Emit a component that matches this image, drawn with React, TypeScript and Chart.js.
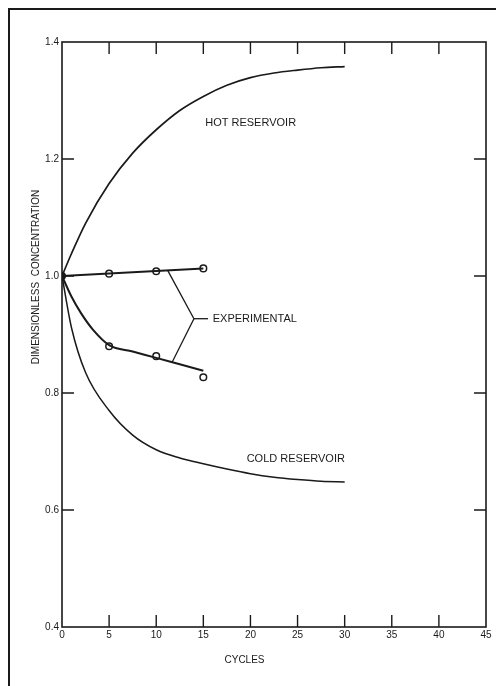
import React, { useEffect, useRef } from "react";
import { Chart, registerables } from "chart.js";

Chart.register(...registerables);

// Hot reservoir curve (cycles, dimensionless concentration)
const hotX = [0, 1, 2.5, 5, 7.5, 10, 12.5, 15, 17.5, 20, 22.5, 25, 27.5, 30];
const hotY = [1.0, 1.038, 1.09, 1.158, 1.21, 1.25, 1.283, 1.307, 1.326, 1.339, 1.347, 1.352, 1.356, 1.358];

// Cold reservoir curve
const coldX = [0, 1, 2.5, 5, 7.5, 10, 12.5, 15, 17.5, 20, 22.5, 25, 27.5, 30];
const coldY = [1.0, 0.912, 0.835, 0.77, 0.728, 0.703, 0.689, 0.679, 0.67, 0.662, 0.656, 0.652, 0.649, 0.648];

// Experimental fitted lines
const expUpperFitX = [0, 15];
const expUpperFitY = [1.0, 1.013];
const expLowerFitX = [0, 1, 2, 3.3, 5, 7.5, 10, 12.5, 15];
const expLowerFitY = [1.0, 0.965, 0.937, 0.908, 0.882, 0.871, 0.86, 0.849, 0.838];

// Experimental points
const expUpperX = [5, 10, 15];
const expUpperY = [1.004, 1.008, 1.013];
const expLowerX = [5, 10, 15];
const expLowerY = [0.88, 0.863, 0.827];
const originX = [0];
const originY = [1.0];

// Bracket linking the label to both experimental lines
const bracketX = [11.2, 14.0, 11.7];
const bracketY = [1.01, 0.927, 0.853];
const bracketTickX = [14.0, 15.5];
const bracketTickY = [0.927, 0.927];

// Axes
const xTicks = [0, 5, 10, 15, 20, 25, 30, 35, 40, 45];
const yTicks = [0.4, 0.6, 0.8, 1.0, 1.2, 1.4];

// Annotation labels (data coordinates)
const labels = [
  { text: "HOT RESERVOIR", x: 15.2, y: 1.262 },
  { text: "COLD RESERVOIR", x: 19.6, y: 0.687 },
  { text: "EXPERIMENTAL", x: 16.0, y: 0.927 },
];
const xTitle = "CYCLES";
const yTitle = "DIMENSIONLESS  CONCENTRATION";

const ink = "#1a1a1a";
const font = "'Liberation Sans', Arial, sans-serif";

const zip = (xs: number[], ys: number[]) => xs.map((x, i) => ({ x, y: ys[i] }));

const decorPlugin = {
  id: "decor",
  beforeDraw(chart: any) {
    const ctx = chart.ctx;
    ctx.save();
    ctx.fillStyle = "#ffffff";
    ctx.fillRect(0, 0, chart.width, chart.height);
    ctx.restore();
  },
  afterDraw(chart: any) {
    const ctx = chart.ctx;
    const { left, right, top, bottom } = chart.chartArea;
    const xs = chart.scales.x;
    const ys = chart.scales.y;
    ctx.save();
    ctx.strokeStyle = ink;
    // outer frame
    ctx.lineWidth = 2;
    ctx.strokeRect(9, 9, chart.width + 10, chart.height + 10);
    // plot frame
    ctx.lineWidth = 1.6;
    ctx.strokeRect(left, top, right - left, bottom - top);
    // inward ticks
    const tl = 12;
    ctx.lineWidth = 1.4;
    ctx.beginPath();
    xTicks.slice(1, -1).forEach((v) => {
      const px = xs.getPixelForValue(v);
      ctx.moveTo(px, bottom);
      ctx.lineTo(px, bottom - tl);
      ctx.moveTo(px, top);
      ctx.lineTo(px, top + tl);
    });
    yTicks.slice(1, -1).forEach((v) => {
      const py = ys.getPixelForValue(v);
      ctx.moveTo(left, py);
      ctx.lineTo(left + tl, py);
      ctx.moveTo(right, py);
      ctx.lineTo(right - tl, py);
    });
    ctx.stroke();
    // annotation labels
    ctx.fillStyle = ink;
    ctx.font = `11px ${font}`;
    ctx.textBaseline = "middle";
    ctx.textAlign = "left";
    labels.forEach((l) => {
      ctx.fillText(l.text, xs.getPixelForValue(l.x), ys.getPixelForValue(l.y));
    });
    // axis titles
    ctx.font = `10px ${font}`;
    ctx.textAlign = "center";
    ctx.fillText(xTitle, 244.5, 660);
    ctx.translate(36, 277);
    ctx.rotate(-Math.PI / 2);
    ctx.fillText(yTitle, 0, 0);
    ctx.restore();
  },
};

export default function App() {
  const ref = useRef<HTMLCanvasElement | null>(null);
  useEffect(() => {
    if (!ref.current) return;
    const lineDs = (xs: number[], ys: number[], w: number, mono = true) => ({
      data: zip(xs, ys),
      showLine: true,
      borderColor: ink,
      borderWidth: w,
      pointRadius: 0,
      cubicInterpolationMode: mono ? "monotone" : "default",
      tension: 0,
    });
    const pointDs = (xs: number[], ys: number[], fill: string) => ({
      data: zip(xs, ys),
      showLine: false,
      pointRadius: 3.3,
      pointBorderWidth: 1.5,
      pointBorderColor: ink,
      pointBackgroundColor: fill,
      pointStyle: "circle",
    });
    const chart = new Chart(ref.current, {
      type: "scatter",
      data: {
        datasets: [
          lineDs(hotX, hotY, 1.7) as any,
          lineDs(coldX, coldY, 1.5) as any,
          lineDs(expUpperFitX, expUpperFitY, 2) as any,
          lineDs(expLowerFitX, expLowerFitY, 2) as any,
          lineDs(bracketX, bracketY, 1.3, false) as any,
          lineDs(bracketTickX, bracketTickY, 1.3, false) as any,
          pointDs(expUpperX, expUpperY, "#ffffff") as any,
          pointDs(expLowerX, expLowerY, "#ffffff") as any,
          pointDs(originX, originY, ink) as any,
        ],
      },
      options: {
        animation: false,
        responsive: false,
        maintainAspectRatio: false,
        layout: { padding: { left: 0, top: 42, right: 10, bottom: 0 } },
        plugins: { legend: { display: false }, tooltip: { enabled: false } },
        scales: {
          x: {
            type: "linear",
            min: 0,
            max: 45,
            grid: { display: false, drawTicks: false, tickLength: 0 },
            border: { display: false },
            afterFit: (s: any) => {
              s.height = 59;
            },
            afterBuildTicks: (s: any) => {
              s.ticks = xTicks.map((v) => ({ value: v }));
            },
            ticks: {
              color: ink,
              font: { family: font, size: 10 },
              padding: 2,
              maxRotation: 0,
              autoSkip: false,
              callback: (v: any) => String(v),
            },
          },
          y: {
            type: "linear",
            min: 0.4,
            max: 1.4,
            grid: { display: false, drawTicks: false, tickLength: 0 },
            border: { display: false },
            afterFit: (s: any) => {
              s.width = 62;
            },
            afterBuildTicks: (s: any) => {
              s.ticks = yTicks.map((v) => ({ value: v }));
            },
            ticks: {
              color: ink,
              font: { family: font, size: 10 },
              padding: 3,
              autoSkip: false,
              callback: (v: any) => Number(v).toFixed(1),
            },
          },
        },
      },
      plugins: [decorPlugin],
    });
    return () => chart.destroy();
  }, []);
  return (
    <div style={{ position: "fixed", left: 0, top: 0, width: 496, height: 686, background: "#fff" }}>
      <canvas ref={ref} width={496} height={686} style={{ display: "block", width: 496, height: 686 }} />
    </div>
  );
}
